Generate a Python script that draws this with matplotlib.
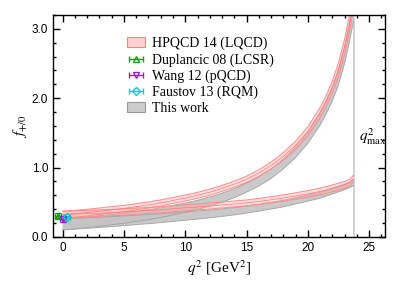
import numpy as np
import matplotlib
matplotlib.use("Agg")
from matplotlib import pyplot as plt
from matplotlib.patches import Patch

plt.rcParams['mathtext.fontset'] = 'stix'
plt.rcParams['font.family'] = ['Liberation Sans', 'DejaVu Sans']

q2 = [0, 1, 2, 3, 4, 5, 6, 7, 8, 9, 10, 11, 12, 13, 14, 15, 16, 17, 18, 19, 20,
      21, 21.5, 22, 22.5, 23, 23.4, 23.73]
q2max = 23.73

# HPQCD 14 (LQCD)
hp_fp = [0.32, 0.335, 0.35, 0.37, 0.39, 0.41, 0.435, 0.46, 0.49, 0.525, 0.56, 0.60, 0.645, 0.70,
         0.76, 0.83, 0.92, 1.03, 1.16, 1.32, 1.52, 1.79, 1.96, 2.16, 2.41, 2.74, 3.08, 3.42]
hp_fp_err = [0.05, 0.049, 0.048, 0.047, 0.046, 0.045, 0.045, 0.044, 0.044, 0.043, 0.043, 0.043, 0.043, 0.043,
             0.044, 0.045, 0.047, 0.05, 0.055, 0.06, 0.066, 0.075, 0.08, 0.09, 0.10, 0.11, 0.12, 0.13]
hp_f0 = [0.32, 0.327, 0.335, 0.342, 0.35, 0.36, 0.37, 0.38, 0.39, 0.405, 0.42, 0.432, 0.445, 0.46,
         0.475, 0.49, 0.51, 0.535, 0.56, 0.59, 0.62, 0.655, 0.675, 0.70, 0.725, 0.75, 0.78, 0.84]
hp_f0_err = [0.05, 0.049, 0.048, 0.047, 0.046, 0.045, 0.045, 0.044, 0.044, 0.043, 0.043, 0.043, 0.043, 0.043,
             0.043, 0.043, 0.044, 0.044, 0.045, 0.046, 0.047, 0.048, 0.049, 0.05, 0.05, 0.05, 0.05, 0.05]

# This work
tw_fp = [0.18, 0.195, 0.21, 0.23, 0.25, 0.27, 0.295, 0.32, 0.35, 0.385, 0.42, 0.46, 0.51, 0.565,
         0.63, 0.71, 0.80, 0.91, 1.05, 1.22, 1.43, 1.70, 1.87, 2.06, 2.30, 2.62, 2.95, 3.25]
tw_fp_err = [0.08, 0.079, 0.078, 0.076, 0.075, 0.074, 0.072, 0.071, 0.07, 0.069, 0.068, 0.067, 0.066, 0.065,
             0.065, 0.065, 0.066, 0.068, 0.07, 0.075, 0.08, 0.09, 0.095, 0.10, 0.11, 0.12, 0.13, 0.14]
tw_f0 = [0.18, 0.19, 0.20, 0.21, 0.22, 0.232, 0.245, 0.257, 0.27, 0.285, 0.30, 0.315, 0.33, 0.35,
         0.37, 0.395, 0.42, 0.45, 0.48, 0.52, 0.56, 0.60, 0.63, 0.66, 0.69, 0.72, 0.75, 0.78]
tw_f0_err = [0.08, 0.078, 0.076, 0.074, 0.072, 0.07, 0.068, 0.066, 0.064, 0.062, 0.06, 0.058, 0.056, 0.054,
             0.053, 0.051, 0.05, 0.048, 0.047, 0.045, 0.044, 0.043, 0.042, 0.042, 0.041, 0.04, 0.04, 0.04]

# f(0) from other approaches
pts_names = ['Duplancic 08 (LCSR)', 'Wang 12 (pQCD)', 'Faustov 13 (RQM)']
pts_q2 = [-0.35, 0.0, 0.35]
pts_f = [0.30, 0.26, 0.284]
pts_lo = [0.03, 0.05, 0.014]
pts_hi = [0.04, 0.04, 0.014]
pts_col = ['#1a9a1a', '#9a1ae0', '#10c8d0']
pts_mk = ['^', 'v', 'D']

fig = plt.figure(figsize=(4.07, 2.82), dpi=100)
ax = fig.add_axes([0.130, 0.160, 0.816, 0.787])

q = np.array(q2)

def band(c, e, fc, ec, alpha, z):
    c = np.array(c)
    e = np.array(e)
    ax.fill_between(q, c - e, c + e, facecolor=fc, edgecolor='none', alpha=alpha, zorder=z)
    ax.plot(q, c - e, color=ec, lw=0.7, zorder=z + 0.1)
    ax.plot(q, c + e, color=ec, lw=0.7, zorder=z + 0.1)

band(tw_fp, tw_fp_err, '#c4c4c4', '#a8a8a8', 0.9, 1)
band(tw_f0, tw_f0_err, '#c4c4c4', '#a8a8a8', 0.9, 1)
band(hp_fp, hp_fp_err, '#ffaaaa', '#ff8a8a', 0.4, 2)
band(hp_f0, hp_f0_err, '#ffaaaa', '#ff8a8a', 0.4, 2)
ax.plot(q, hp_fp, color='#ff7777', lw=0.5, zorder=2.2)
ax.plot(q, hp_f0, color='#ff7777', lw=0.5, zorder=2.2)

for i in range(len(pts_names)):
    ax.errorbar(pts_q2[i], pts_f[i], yerr=[[pts_lo[i]], [pts_hi[i]]], xerr=0.25,
                fmt=pts_mk[i], color=pts_col[i], mfc='none', ms=4.5, mew=1.0,
                elinewidth=1.0, capsize=2, zorder=5)

ax.axvline(q2max, color='#c8c8c8', lw=1.2, zorder=0.5)
ax.text(24.15, 1.45, r'$q^2_{\rm max}$', fontsize=11, ha='left', va='center')

ax.set_xlim(-0.8, 26.3)
ax.set_ylim(0, 3.2)
ax.set_xticks([0, 5, 10, 15, 20, 25])
ax.set_xticks(np.arange(0, 27, 1), minor=True)
ax.set_yticks([0.0, 1.0, 2.0, 3.0])
ax.set_yticks(np.arange(0, 3.21, 0.2), minor=True)
ax.yaxis.set_major_formatter(matplotlib.ticker.FormatStrFormatter('%.1f'))
ax.tick_params(which='both', direction='in', top=True, right=True, labelsize=8.5, width=1.0)
ax.tick_params(which='major', length=5)
ax.tick_params(which='minor', length=2.5)
for s in ax.spines.values():
    s.set_linewidth(1.0)

ax.set_xlabel(r'$q^2$ [GeV$^2$]', family='Liberation Serif', fontsize=11, labelpad=3)
ax.set_ylabel(r'$f_{+/0}$', fontsize=11, labelpad=2)

handles = [Patch(facecolor='#ffd0d0', edgecolor='#ff8080', lw=0.8)]
for i in range(len(pts_names)):
    h = ax.errorbar([np.nan], [np.nan], xerr=[0.5], fmt=pts_mk[i], color=pts_col[i],
                    mfc='none', ms=4, mew=1.0, elinewidth=1.0, capsize=2)
    handles.append(h)
handles.append(Patch(facecolor='#cccccc', edgecolor='#999999', lw=0.8))
labels = ['HPQCD 14 (LQCD)'] + pts_names + ['This work']
ax.legend(handles, labels, loc='upper left', bbox_to_anchor=(0.195, 0.945), frameon=False,
          prop={'family': 'Liberation Serif', 'size': 10}, labelspacing=0.2,
          handlelength=1.3, handletextpad=0.5, borderpad=0.2)

fig.savefig('out.png', dpi=100)
